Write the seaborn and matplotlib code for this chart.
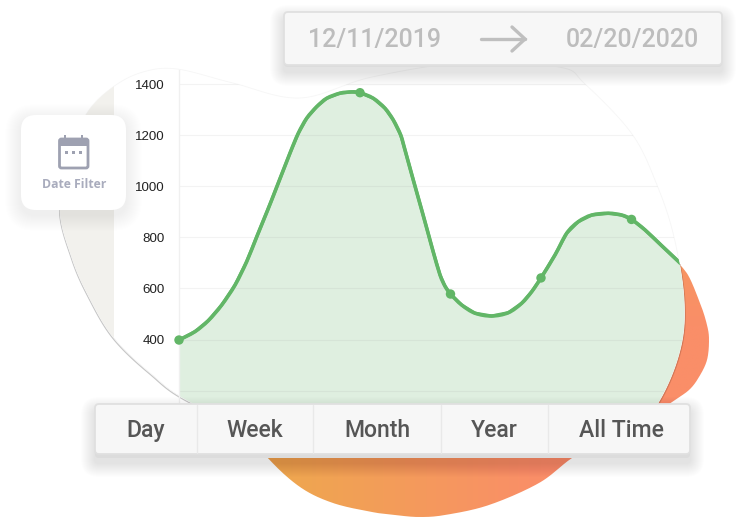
import numpy as np
import matplotlib
matplotlib.use("Agg")
import matplotlib.pyplot as plt
import seaborn as sns
from matplotlib.patches import FancyBboxPatch, PathPatch, Rectangle
from matplotlib.path import Path
from matplotlib.transforms import Affine2D

# ---- data ----
curve_x = [0.000,0.177,0.324,0.472,0.619,0.748,0.859,0.950,1.024,1.227,1.318,1.411,1.521,1.632,1.779,1.908,2.000,
           2.147,2.276,2.368,2.450,2.497,2.589,2.688,2.755,2.810,2.884,2.939,3.000,3.124,3.271,3.455,3.639,3.787,3.897,4.000,
           4.155,4.284,4.412,4.560,4.744,4.892,5.002,5.149,5.334,5.511,5.757]
curve_y = [398,431,474,535,613,705,802,881,946,1130,1207,1266,1311,1344,1364,1369,1366,
           1344,1305,1259,1200,1142,1024,899,813,742,653,609,578,535,503,492,505,542,587,641,
           731,816,861,887,894,887,870,829,767,708,625]
marker_x = [0, 2, 3, 4, 5]
marker_y = [398, 1366, 578, 641, 870]
y_ticks = [200, 400, 600, 800, 1000, 1200, 1400]
date_from = "12/11/2019"
date_to = "02/20/2020"
ranges = ["Day", "Week", "Month", "Year", "All Time"]
filter_label = "Date Filter"

W, H = 744, 517
sns.set_theme(style="white")
plt.rcParams["font.family"] = ["Roboto", "DejaVu Sans"]
fig = plt.figure(figsize=(W/100, H/100), dpi=100, facecolor="white")

def full_axes(z):
    a = fig.add_axes([0, 0, 1, 1], zorder=z)
    a.set_xlim(0, W); a.set_ylim(H, 0); a.axis("off"); a.patch.set_alpha(0)
    return a

def smooth_closed(pts, n=24):
    p = np.array(pts, float); m = len(p); out = []
    for i in range(m):
        p0, p1, p2, p3 = p[(i-1) % m], p[i], p[(i+1) % m], p[(i+2) % m]
        for t in np.linspace(0, 1, n, endpoint=False):
            out.append(0.5*((2*p1)+(-p0+p2)*t+(2*p0-5*p1+4*p2-p3)*t*t+(-p0+3*p1-3*p2+p3)*t**3))
    return Path(np.array(out + [out[0]]))

def smooth_open(xs, ys):
    """Smooth (Catmull-Rom) bezier path running through the given points."""
    p = np.column_stack([xs, ys]).astype(float)
    verts = [p[0]]; codes = [Path.MOVETO]
    for i in range(len(p)-1):
        p0 = p[max(i-1, 0)]; p1 = p[i]; p2 = p[i+1]; p3 = p[min(i+2, len(p)-1)]
        verts += [p1+(p2-p0)/6, p2-(p3-p1)/6, p2]
        codes += [Path.CURVE4]*3
    return Path(verts, codes)

bg = full_axes(1)
blob_pts = [(60,210),(69,155),(87,113),(113,87),(143,72),(177,69),(233,83),(300,98),(372,77),(470,62),
            (559,67),(585,84),(632,134),(657,185),(674,237),(684,300),(680,350),(658,403),
            (620,450),(300,450),(192,403),(150,373),(113,337),(88,295),(72,258)]
blob = smooth_closed(blob_pts)
orange_pts = [(640,310),(672,268),(686,272),(700,303),(707,325),(709,340),(707,360),(699,377),(689,390),(672,402),
              (640,425),(605,440),(572,458),(539,483),(489,505),(445,515),(419,517),(395,515),(372,512),(333,503),
              (300,487),(268,458),(245,425),(300,380),(560,380)]
orange = smooth_closed(orange_pts)

# orange gradient blob
gx, gy = np.meshgrid(np.linspace(230, 720, 400), np.linspace(230, 520, 200))
t = np.clip((gx-270)/270, 0, 1)*(0.72+0.28*np.clip((gy-255)/70, 0, 1))
t = t[..., None]
c0, c1 = np.array([238,168,78])/255, np.array([250,142,104])/255
rgb = c0*(1-t) + c1*t
im = bg.imshow(rgb, extent=(230, 720, 520, 230), aspect="auto", zorder=1)
op = PathPatch(orange, transform=bg.transData, fc="none", ec="none")
bg.add_patch(op); im.set_clip_path(op)
bg.set_xlim(0, W); bg.set_ylim(H, 0)

# blob shadow, white blob and beige band
sh1 = PathPatch(blob, fc=(0.55,0.3,0.2,0.35), ec="none", zorder=2,
                transform=Affine2D().translate(1.4,1.0)+bg.transData)
bg.add_patch(sh1)
low = Rectangle((520, 264), 224, 280, transform=bg.transData, fc="none", ec="none"); bg.add_patch(low); sh1.set_clip_path(low)
sh2 = PathPatch(blob, fc="#c6c6c6", ec="none", zorder=2,
                transform=Affine2D().translate(-1.0,1.2)+bg.transData)
bg.add_patch(sh2)
low2 = Rectangle((40, 205), 200, 230, transform=bg.transData, fc="none", ec="none"); bg.add_patch(low2); sh2.set_clip_path(low2)
bp = PathPatch(blob, fc="white", ec="#f6f6f6", lw=0.6, zorder=3)
bg.add_patch(bp)
band = Rectangle((0, 0), 113.5, H, fc="#f2f1ed", ec="none", zorder=4)
bg.add_patch(band); band.set_clip_path(bp)

# chart axes (pixel box 179..722 x 70..404)
def v(y_px): return 400 + (339.5 - y_px)*3.914
ax = fig.add_axes([179/W, 1-404/H, (722-179)/W, (404-70)/H], zorder=2)
ax.patch.set_alpha(0)
ax.set_xlim(0, 6); ax.set_ylim(v(404), v(70))
clip = PathPatch(blob, transform=bg.transData, fc="none", ec="none")
bg.add_patch(clip)
green = "#62b667"
fill = ax.fill_between(curve_x, curve_y, v(404), color="#dfefe0", lw=0, zorder=1)
sns.lineplot(x=curve_x, y=curve_y, ax=ax, color=green, lw=2.3, sort=False, errorbar=None, zorder=3,
             solid_joinstyle="round")
smooth = PathPatch(smooth_open(curve_x, curve_y), fc="none", ec=green, lw=2.6, zorder=3, capstyle="round")
ax.add_patch(smooth)
sns.scatterplot(x=marker_x, y=marker_y, ax=ax, color=green, s=46, edgecolor="none", zorder=4)
ax.set_yticks(y_ticks)
ax.set_yticklabels(["" if t == 200 else str(t) for t in y_ticks], fontsize=9.6, color="#222222",
                   family=["Liberation Sans"])
ax.set_xticks([])
ax.tick_params(axis="y", length=9, width=0.8, color="#f2f2f2", pad=1.5)
for s in ["top", "right", "bottom"]:
    ax.spines[s].set_visible(False)
ax.spines["left"].set_color("#f0f0f0"); ax.spines["left"].set_linewidth(1.0)
grid = ax.hlines(y_ticks, 0, 6, color=(0.5,0.5,0.5,0.09), lw=0.8, zorder=2)
for art in [fill, grid, ax.lines[0], smooth, ax.collections[1]]:
    art.set_clip_box(None)
    art.set_clip_path(clip)

# overlay widgets
ov = full_axes(3)
def shadow(x0, y0, x1, y1, r, n=14, dy=5, sa=0.007):
    for i in range(n, 0, -1):
        ov.add_patch(FancyBboxPatch((x0-i, y0-i+dy), x1-x0+2*i, y1-y0+2*i,
                     boxstyle=f"round,pad=0,rounding_size={r+i}", fc=(0,0,0,sa), ec="none"))

# date bar
shadow(284, 14, 722, 67, 4)
ov.add_patch(FancyBboxPatch((284, 14), 438, 53, boxstyle="round,pad=0,rounding_size=4", fc="#dcdcdc", ec="none"))
ov.add_patch(FancyBboxPatch((284, 12), 438, 53, boxstyle="round,pad=0,rounding_size=4", fc="#f7f7f7", ec="#e0e0e0", lw=1.3))
ov.text(374, 40, date_from, ha="center", va="center", fontsize=18, color="#bdbdbd", fontweight="medium")
ov.text(632.5, 40, date_to, ha="center", va="center", fontsize=18, color="#bdbdbd", fontweight="medium")
ov.plot([481, 525], [39, 39], color="#bfbfbf", lw=2.4, solid_capstyle="round")
ov.plot([512, 525, 512], [27, 39, 51], color="#bfbfbf", lw=2.4, solid_capstyle="round", solid_joinstyle="miter")

# range toolbar
shadow(95, 406, 690, 458, 4)
ov.add_patch(FancyBboxPatch((95, 406), 595, 52, boxstyle="round,pad=0,rounding_size=4", fc="#dcdcdc", ec="none"))
ov.add_patch(FancyBboxPatch((95, 404), 595, 50, boxstyle="round,pad=0,rounding_size=4", fc="#f7f7f7", ec="#e0e0e0", lw=1.3))
for xd in [196.5, 313, 441, 547.5]:
    ov.plot([xd, xd], [405, 453], color="#e9e9e9", lw=1)
for lab, xc in zip(ranges, [146, 255, 377, 494, 621]):
    ov.text(xc, 430.5, lab, ha="center", va="center", fontsize=16.6, color="#565656", fontweight="medium")

# date filter card
shadow(21, 115, 126, 210, 15, n=16, dy=5, sa=0.005)
ov.add_patch(FancyBboxPatch((21, 115), 105, 95, boxstyle="round,pad=0,rounding_size=15", fc="white", ec="none"))
ic = "#9ea1b1"
ov.add_patch(FancyBboxPatch((59.5, 139), 28.5, 29, boxstyle="round,pad=0,rounding_size=2", fc="none", ec=ic, lw=2))
ov.add_patch(Rectangle((59, 139), 29, 7, fc=ic, ec="none"))
for xt in [65, 82]:
    ov.add_patch(Rectangle((xt-1.2, 135), 2.6, 5, fc=ic, ec="none"))
for xt in [66.7, 73.5, 80.3]:
    ov.add_patch(Rectangle((xt-1.3, 150.5), 2.6, 3, fc=ic, ec="none"))
ov.text(74, 185, filter_label, ha="center", va="center", fontsize=8.8, color="#a9acbd", fontweight="bold",
        family=["Open Sans"])

fig.savefig("out.png", dpi=100)
